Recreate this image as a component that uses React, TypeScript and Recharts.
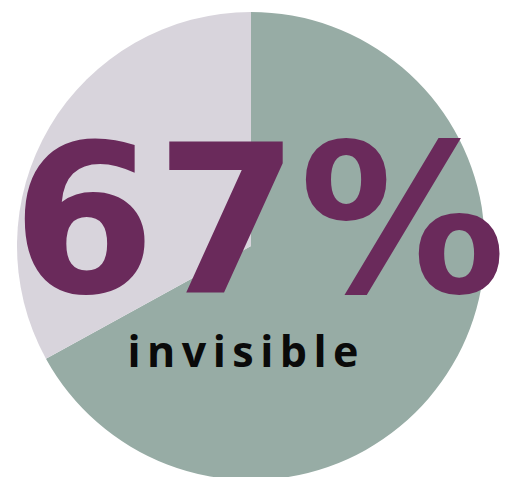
import React from "react";
import { Cell, Label, Pie, PieChart } from "recharts";

const names = ["invisible", "visible"];
const shares = [67, 33];
const colors = ["#97ACA5", "#D8D4DC"];
const headline = "67%";
const caption = "invisible";

const data = names.map((name, i) => ({ name, value: shares[i] }));

// big number + caption drawn in the middle of the pie
function CenterText(props: any) {
  const vb = props.viewBox || {};
  const cx = vb.cx ?? 251;
  const cy = vb.cy ?? 246;
  return (
    <g>
      <text
        x={cx + 8}
        y={cy + 46}
        textAnchor="middle"
        fill="#6A2A5B"
        fontFamily="'DejaVu Sans', sans-serif"
        fontWeight={700}
        fontSize={207}
        textLength={494}
        lengthAdjust="spacingAndGlyphs"
      >
        {headline}
      </text>
      <text
        x={cx - 8}
        y={cy + 121}
        textAnchor="middle"
        fill="#0A0A0A"
        fontFamily="'Open Sans', sans-serif"
        fontWeight={700}
        fontSize={43}
        textLength={231}
        lengthAdjust="spacing"
      >
        {caption}
      </text>
    </g>
  );
}

export default function App() {
  return (
    <div style={{ position: "absolute", left: 0, top: 0, width: 506, height: 477, background: "#fff" }}>
      <PieChart width={506} height={477} margin={{ top: 0, right: 0, bottom: 0, left: 0 }}>
        <Pie
          data={data}
          dataKey="value"
          nameKey="name"
          cx={251}
          cy={246}
          innerRadius={0}
          outerRadius={234}
          startAngle={90}
          endAngle={-270}
          stroke="none"
          isAnimationActive={false}
        >
          {data.map((d, i) => (
            <Cell key={d.name} fill={colors[i]} />
          ))}
          <Label position="center" content={CenterText} />
        </Pie>
      </PieChart>
    </div>
  );
}
